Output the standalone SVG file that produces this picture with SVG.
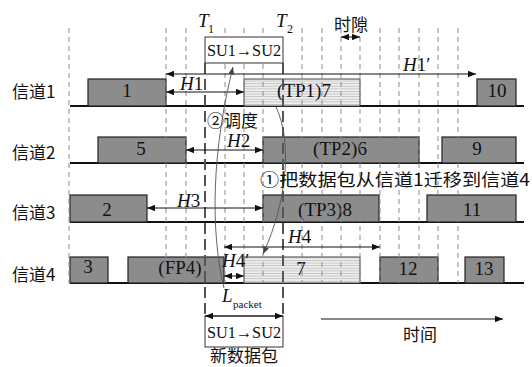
<svg xmlns="http://www.w3.org/2000/svg" width="532" height="367" viewBox="0 0 532 367">
<style>
text{font-family:"Liberation Serif","Noto Sans CJK SC",serif;fill:#111}
.cjk{font-family:"Noto Sans CJK SC","Liberation Serif",sans-serif;font-size:17px}
.lbl{font-size:19px;text-anchor:middle}
.hl{font-size:19px}
.blk{fill:#8c8c8c;stroke:#222;stroke-width:1.2}
.hat{fill:url(#hatch);stroke:#444;stroke-width:1}
.base{stroke:#111;stroke-width:2.2}
.grid{stroke:#8a8a8a;stroke-width:1;stroke-dasharray:5 4}
.tline{stroke:#555;stroke-width:2;stroke-dasharray:11 5}
.arr{stroke:#111;stroke-width:1;fill:none;marker-start:url(#ah);marker-end:url(#ah)}
.arr1{stroke:#111;stroke-width:1;fill:none;marker-end:url(#ah)}
.crv{stroke:#555;stroke-width:0.9;fill:none;marker-end:url(#ah2)}
.box{fill:#fff;stroke:#333;stroke-width:1}
</style>
<defs>
<pattern id="hatch" width="4" height="2.6" patternUnits="userSpaceOnUse">
<rect width="4" height="2.6" fill="#efefef"/>
<line x1="0" y1="0.5" x2="4" y2="0.5" stroke="#b8b8b8" stroke-width="0.8"/>
</pattern>
<marker id="ah" viewBox="0 0 10 8" refX="10" refY="4" markerWidth="8" markerHeight="6.4" markerUnits="userSpaceOnUse" orient="auto-start-reverse">
<path d="M0,0 L10,4 L0,8 z" fill="#111"/>
</marker>
<marker id="ah2" viewBox="0 0 10 8" refX="10" refY="4" markerWidth="8" markerHeight="6" markerUnits="userSpaceOnUse" orient="auto">
<path d="M0,0 L10,4 L0,8 z" fill="#444"/>
</marker>
</defs>

<g id="channel-labels">
<text class="cjk" x="12" y="98">信道1</text>
<text class="cjk" x="12" y="159">信道2</text>
<text class="cjk" x="12" y="219">信道3</text>
<text class="cjk" x="12" y="281">信道4</text>
</g>

<g id="baselines">
<line class="base" x1="70" y1="106" x2="524" y2="106"/>
<line class="base" x1="70" y1="163" x2="524" y2="163"/>
<line class="base" x1="70" y1="222" x2="524" y2="222"/>
<line class="base" x1="70" y1="283" x2="524" y2="283"/>
</g>

<g id="ch1-blocks">
<g id="b1"><rect class="blk" x="88" y="79" width="78" height="27"/><text class="lbl" x="127" y="97">1</text></g>
<g id="tp1"><rect class="hat" x="244" y="79" width="116" height="27"/><text class="lbl" x="304" y="97">(TP1)7</text></g>
<g id="b10"><rect class="blk" x="477" y="79" width="39" height="27"/><text class="lbl" x="497" y="97">10</text></g>
</g>
<g id="ch2-blocks">
<g id="b5"><rect class="blk" x="98" y="137" width="88" height="26"/><text class="lbl" x="141" y="155">5</text></g>
<g id="tp2"><rect class="blk" x="263" y="137" width="156" height="26"/><text class="lbl" x="340" y="155">(TP2)6</text></g>
<g id="b9"><rect class="blk" x="442" y="137" width="74" height="26"/><text class="lbl" x="477" y="155">9</text></g>
</g>
<g id="ch3-blocks">
<g id="b2"><rect class="blk" x="70" y="195" width="77" height="27"/><text class="lbl" x="107" y="216">2</text></g>
<g id="tp3"><rect class="blk" x="263" y="195" width="116" height="27"/><text class="lbl" x="325" y="216">(TP3)8</text></g>
<g id="b11"><rect class="blk" x="427" y="195" width="89" height="27"/><text class="lbl" x="472" y="216">11</text></g>
</g>
<g id="ch4-blocks">
<g id="b3"><rect class="blk" x="70" y="257" width="38" height="26"/><text class="lbl" x="88" y="273">3</text></g>
<g id="fp4"><rect class="blk" x="128" y="257" width="96" height="26"/><text class="lbl" x="180" y="274">(FP4)</text></g>
<g id="b7"><rect class="hat" x="244" y="257" width="116" height="26"/><text class="lbl" x="301" y="275">7</text></g>
<g id="b12"><rect class="blk" x="380" y="257" width="58" height="26"/><text class="lbl" x="408" y="275">12</text></g>
<g id="b13"><rect class="blk" x="465" y="257" width="39" height="26"/><text class="lbl" x="484" y="275">13</text></g>
</g>

<g id="grid">
<line class="grid" x1="69" y1="28" x2="69" y2="283"/>
<line class="grid" x1="166" y1="28" x2="166" y2="283"/>
<line class="grid" x1="186" y1="28" x2="186" y2="283"/>
<line class="grid" x1="225" y1="28" x2="225" y2="283"/>
<line class="grid" x1="244" y1="28" x2="244" y2="283"/>
<line class="grid" x1="263" y1="28" x2="263" y2="283"/>
<line class="grid" x1="302" y1="28" x2="302" y2="283"/>
<line class="grid" x1="322" y1="28" x2="322" y2="283"/>
<line class="grid" x1="341" y1="28" x2="341" y2="283"/>
<line class="grid" x1="360" y1="28" x2="360" y2="283"/>
<line class="grid" x1="380" y1="28" x2="380" y2="283"/>
<line class="grid" x1="399" y1="28" x2="399" y2="283"/>
<line class="grid" x1="419" y1="28" x2="419" y2="283"/>
<line class="grid" x1="438" y1="28" x2="438" y2="283"/>
<line class="grid" x1="458" y1="28" x2="458" y2="283"/>
<line class="tline" x1="205" y1="63" x2="205" y2="316"/>
<line class="tline" x1="283" y1="63" x2="283" y2="316"/>
</g>

<g id="top-packet">
<rect class="box" x="205" y="37" width="78" height="26"/>
<text x="244" y="56" font-size="17" text-anchor="middle" textLength="74" lengthAdjust="spacingAndGlyphs">SU1→SU2</text>
<text x="198" y="27" font-size="19" font-style="italic">T</text><text x="208" y="33" font-size="12">1</text>
<text x="276" y="27" font-size="19" font-style="italic">T</text><text x="287" y="33" font-size="12">2</text>
</g>

<g id="new-packet">
<rect class="box" x="205" y="316" width="78" height="31"/>
<text x="244" y="338" font-size="17" text-anchor="middle" textLength="74" lengthAdjust="spacingAndGlyphs">SU1→SU2</text>
<text class="cjk" x="244" y="362" text-anchor="middle" font-size="18">新数据包</text>
</g>

<g id="connectors">
<line class="arr" x1="341" y1="37" x2="360" y2="37"/>
<line class="arr" x1="166" y1="74" x2="476" y2="74"/>
<line class="arr" x1="166" y1="92" x2="244" y2="92"/>
<line class="arr" x1="186" y1="150" x2="263" y2="150"/>
<line class="arr" x1="147" y1="208" x2="263" y2="208"/>
<line class="arr" x1="224" y1="247" x2="380" y2="247"/>
<line class="arr" x1="224" y1="276" x2="244" y2="276"/>
<line class="arr" x1="205" y1="316" x2="283" y2="316"/>
<line class="arr1" x1="321" y1="319" x2="503" y2="319"/>
<path class="crv" d="M224,288 C210,230 212,150 233,67"/>
<path class="crv" d="M276,107 C292,140 288,200 263,254"/>
</g>

<g id="labels">
<text class="cjk" x="334" y="31" font-size="18">时隙</text>
<text class="hl" x="403" y="71"><tspan font-style="italic">H</tspan>1′</text>
<text class="hl" x="180" y="90"><tspan font-style="italic">H</tspan>1</text>
<text class="hl" x="227" y="147"><tspan font-style="italic">H</tspan>2</text>
<text class="hl" x="177" y="207"><tspan font-style="italic">H</tspan>3</text>
<text class="hl" x="288" y="243"><tspan font-style="italic">H</tspan>4</text>
<text class="hl" x="222" y="267"><tspan font-style="italic">H</tspan>4′</text>
<text x="222" y="302" font-size="19" font-style="italic">L</text><text x="233" y="308" font-size="11">packet</text>
<text class="cjk" x="207" y="127" font-size="18">②调度</text>
<text class="cjk" x="260" y="186" font-size="18" textLength="270" lengthAdjust="spacingAndGlyphs">①把数据包从信道1迁移到信道4</text>
<text class="cjk" x="403" y="341" font-size="18">时间</text>
</g>
</svg>
